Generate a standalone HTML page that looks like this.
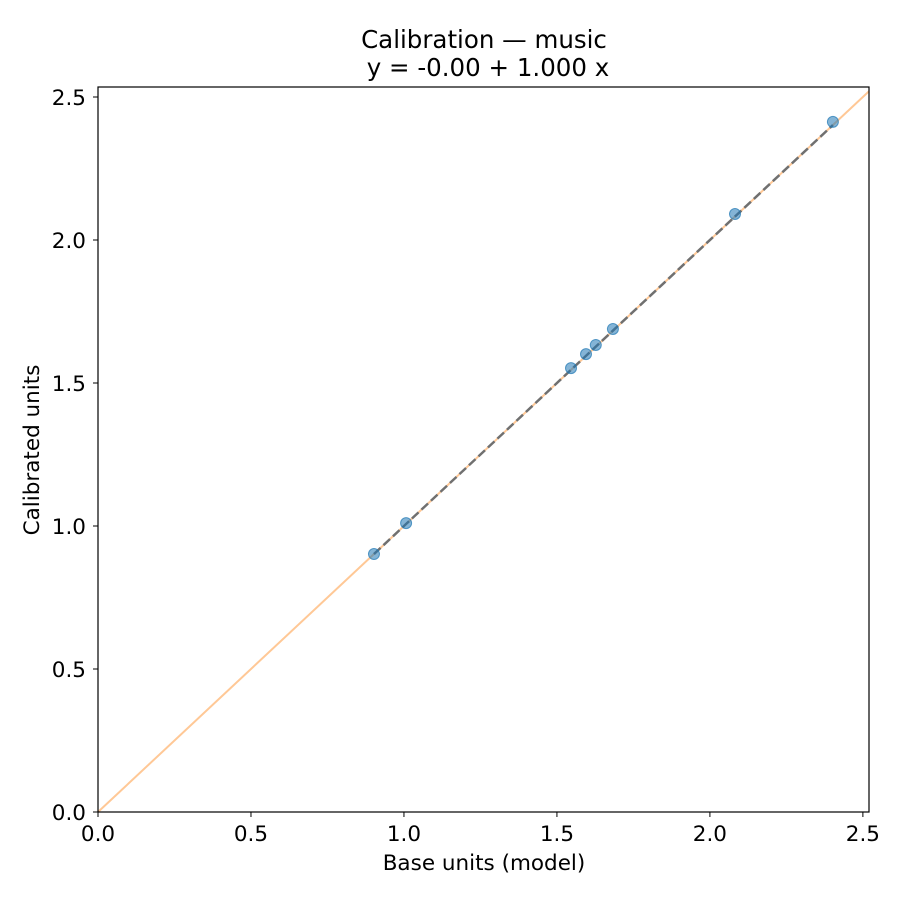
<!DOCTYPE html>
<html><head><meta charset="utf-8"><style>
body{margin:0;background:#fff;font-family:"Liberation Sans","DejaVu Sans",sans-serif;}
svg text{font-family:"DejaVu Sans","Liberation Sans",sans-serif;}
</style></head><body>
<svg id="chart" width="900" height="900">
<rect width="900" height="900" fill="#fff"/>
<text x="484" y="48" font-size="24.5" text-anchor="middle">Calibration — music</text>
<text x="488" y="76" font-size="24.5" text-anchor="middle">y = -0.00 + 1.000 x</text>
<g id="marks"></g>
<rect x="98" y="87" width="771" height="725" fill="none" stroke="#000" stroke-width="1.2"/>
<g id="axes"></g>
<text x="484" y="870" font-size="21.5" text-anchor="middle">Base units (model)</text>
<text transform="translate(39,450) rotate(-90)" font-size="21.5" text-anchor="middle">Calibrated units</text>
</svg>
<script>
const baseX = [0.902, 1.007, 1.546, 1.595, 1.627, 1.683, 2.082, 2.402];
const calY = [0.902, 1.010, 1.552, 1.601, 1.633, 1.689, 2.091, 2.413];
const xTicks = [0, 0.5, 1.0, 1.5, 2.0, 2.5];
const yTicks = [0, 0.5, 1.0, 1.5, 2.0, 2.5];
const intercept = -0.00, slope = 1.000;
const X0=98,X1=869,Y0=812,Y1=87,XMAX=2.52,YMAX=2.535;
const sx=v=>X0+v/XMAX*(X1-X0), sy=v=>Y0-v/YMAX*(Y0-Y1);
const NS="http://www.w3.org/2000/svg";
const mk=(t,a,p)=>{const e=document.createElementNS(NS,t);for(const k in a)e.setAttribute(k,a[k]);p.appendChild(e);return e;};
const marks=document.getElementById('marks'), axes=document.getElementById('axes');
const clipL=Math.min(XMAX,YMAX);
let l=mk('line',{x1:sx(0),y1:sy(0),x2:sx(clipL),y2:sy(clipL),stroke:'#ffc896','stroke-width':2},marks);


const xmin=Math.min(...baseX), xmax=Math.max(...baseX);
let f=mk('line',{x1:sx(xmin),y1:sy(intercept+slope*xmin),x2:sx(xmax),y2:sy(intercept+slope*xmax),stroke:'#707070','stroke-width':2.5,'stroke-dasharray':'9,4'},marks);


baseX.forEach((x,i)=>{
 let c=mk('circle',{cx:sx(x),cy:sy(calY[i]),r:5.5,fill:'rgba(31,119,180,0.55)',stroke:'rgba(31,119,180,0.7)','stroke-width':1},marks);
 
 
});
xTicks.forEach(t=>{
 mk('line',{x1:sx(t),y1:Y0,x2:sx(t),y2:Y0+5,stroke:'#000'},axes);
 let tx=mk('text',{x:sx(t),y:Y0+29,'font-size':21.5,'text-anchor':'middle'},axes);
 tx.textContent=t.toFixed(1);
 
 
});
yTicks.forEach(t=>{
 mk('line',{x1:X0-5,y1:sy(t),x2:X0,y2:sy(t),stroke:'#000'},axes);
 let tx=mk('text',{x:X0-12,y:sy(t)+8,'font-size':21.5,'text-anchor':'end'},axes);
 tx.textContent=t.toFixed(1);
 
 
});
</script>
</body></html>
